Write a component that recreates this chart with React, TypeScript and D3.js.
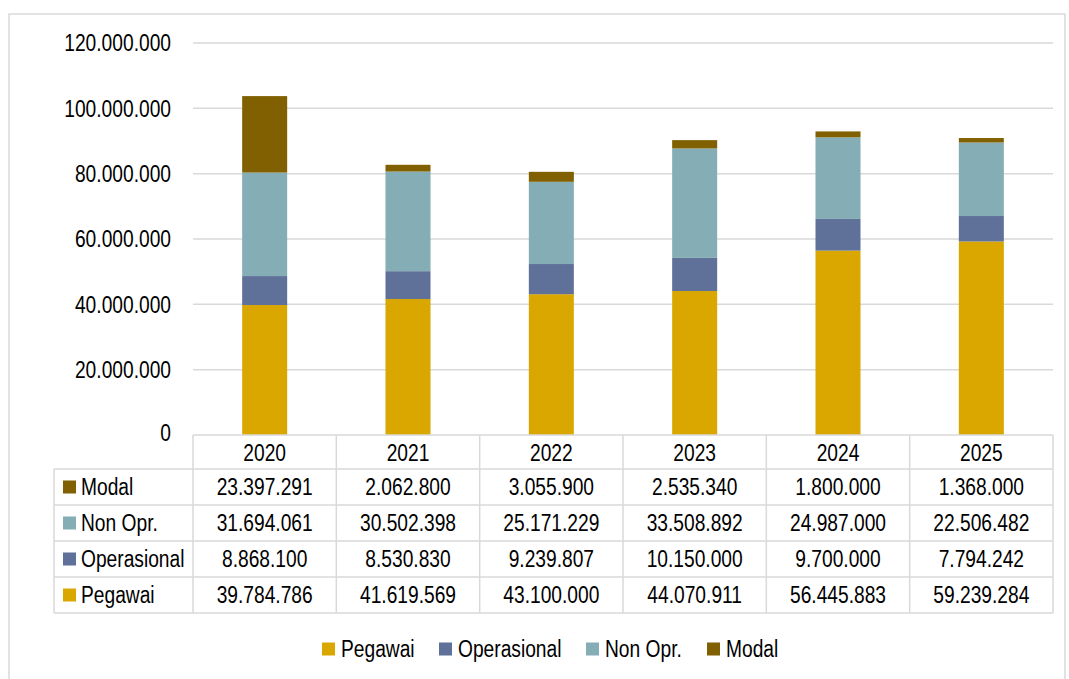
import * as d3 from "d3";

const years = ["2020", "2021", "2022", "2023", "2024", "2025"];
const seriesNames = ["Pegawai", "Operasional", "Non Opr.", "Modal"];
const pegawai = [39784786, 41619569, 43100000, 44070911, 56445883, 59239284];
const operasional = [8868100, 8530830, 9239807, 10150000, 9700000, 7794242];
const nonOpr = [31694061, 30502398, 25171229, 33508892, 24987000, 22506482];
const modal = [23397291, 2062800, 3055900, 2535340, 1800000, 1368000];
const yTicks = [0, 20000000, 40000000, 60000000, 80000000, 100000000, 120000000];

const colors = ["#D9A700", "#5F7199", "#84ADB5", "#806000"];
const values = [pegawai, operasional, nonOpr, modal];

const fmt = (v: number) =>
  v === 0 ? "0" : String(v).replace(/\B(?=(\d{3})+(?!\d))/g, ".");

const FONT = "'Liberation Sans', Arial, sans-serif";
const SX = 0.835;

function T({
  x,
  y,
  anchor = "start",
  children,
}: {
  x: number;
  y: number;
  anchor?: "start" | "middle" | "end";
  children: string;
}) {
  return (
    <text
      transform={`translate(${x},${y}) scale(${SX},1)`}
      textAnchor={anchor}
      dy="0.36em"
      fontSize={23}
      fontFamily={FONT}
      fill="#000"
    >
      {children}
    </text>
  );
}

export default function App() {
  const width = 1069;
  const height = 679;
  const left = 193;
  const right = 1053;
  const top = 43;
  const base = 435;
  const labelLeft = 54;
  const headerH = 34;
  const rowH = 36;
  const grid = "#d9d9d9";

  const x = d3
    .scaleBand()
    .domain(years)
    .range([left, right])
    .paddingInner(0.686)
    .paddingOuter(0.343);
  const col = d3.scaleBand().domain(years).range([left, right]);

  const y = d3.scaleLinear().domain([0, 120000000]).range([base, top]);

  const table = years.map((yr, i) => {
    const row: Record<string, number | string> = { year: yr };
    seriesNames.forEach((s, k) => (row[s] = values[k][i]));
    return row;
  });
  const stacked = d3.stack<Record<string, number | string>>().keys(seriesNames)(
    table as any
  );

  // table rows listed top to bottom: Modal, Non Opr., Operasional, Pegawai
  const rowOrder = [3, 2, 1, 0];
  const tableTop = base + headerH;
  const tableBottom = tableTop + rowH * rowOrder.length;

  const legendX = [322, 439, 586, 707];
  const legendY = 649;

  return (
    <svg
      width={width}
      height={height}
      style={{ position: "absolute", left: 0, top: 0, background: "#fff" }}
    >
      <rect x={9} y={14} width={1056} height={700} fill="#fff" stroke={grid} strokeWidth={1.5} />

      {/* gridlines and y labels */}
      {yTicks.map((t) => (
        <g key={t}>
          {t > 0 && (
            <line x1={left} x2={right} y1={y(t)} y2={y(t)} stroke={grid} strokeWidth={1.5} />
          )}
          <T x={171} y={y(t) - (t === 0 ? 2 : 0)} anchor="end">
            {fmt(t)}
          </T>
        </g>
      ))}

      {/* bars */}
      {stacked.map((layer, k) => (
        <g key={layer.key} fill={colors[k]}>
          {layer.map((d, i) => (
            <rect
              key={years[i]}
              x={x(years[i])}
              y={y(d[1])}
              width={x.bandwidth()}
              height={y(d[0]) - y(d[1])}
            />
          ))}
        </g>
      ))}

      {/* data table */}
      <g stroke={grid} strokeWidth={1.5} fill="none">
        <line x1={left} x2={right} y1={base} y2={base} />
        {rowOrder.map((_, r) => (
          <line key={r} x1={labelLeft} x2={right} y1={tableTop + r * rowH} y2={tableTop + r * rowH} />
        ))}
        <line x1={labelLeft} x2={right} y1={tableBottom} y2={tableBottom} />
        <line x1={labelLeft} x2={labelLeft} y1={tableTop} y2={tableBottom} />
        {years.map((yr) => (
          <line key={yr} x1={col(yr)!} x2={col(yr)!} y1={base} y2={tableBottom} />
        ))}
        <line x1={right} x2={right} y1={base} y2={tableBottom} />
      </g>
      {years.map((yr) => (
        <T key={yr} x={col(yr)! + col.bandwidth() / 2} y={base + headerH / 2 + 1} anchor="middle">
          {yr}
        </T>
      ))}
      {rowOrder.map((k, r) => {
        const cy = tableTop + r * rowH + rowH / 2;
        return (
          <g key={seriesNames[k]}>
            <rect x={63} y={cy - 6.5} width={13} height={13} fill={colors[k]} />
            <T x={81} y={cy}>{seriesNames[k]}</T>
            {years.map((yr, i) => (
              <T key={yr} x={col(yr)! + col.bandwidth() / 2} y={cy} anchor="middle">
                {fmt(values[k][i])}
              </T>
            ))}
          </g>
        );
      })}

      {/* legend */}
      {seriesNames.map((s, k) => (
        <g key={s}>
          <rect x={legendX[k]} y={legendY - 6.5} width={13} height={13} fill={colors[k]} />
          <T x={legendX[k] + 19} y={legendY}>{s}</T>
        </g>
      ))}
    </svg>
  );
}
